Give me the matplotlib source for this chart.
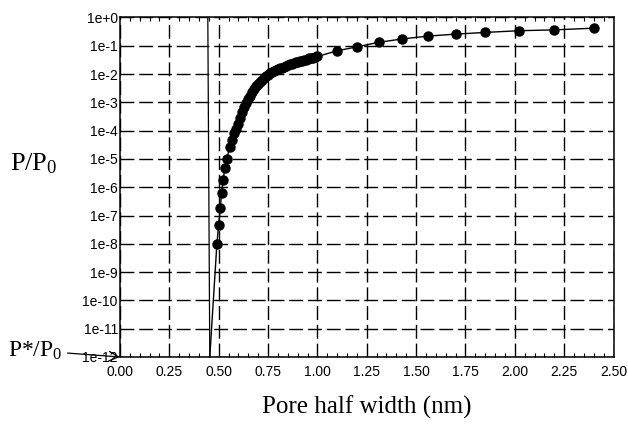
import numpy as np
import matplotlib
matplotlib.use("Agg")
from matplotlib import pyplot as plt
from matplotlib.ticker import FixedLocator, MultipleLocator

# pore half width (nm) and log10(P/P0)
width_nm = [0.491, 0.500, 0.508, 0.515, 0.523, 0.531, 0.542, 0.555, 0.567, 0.577,
            0.59, 0.60, 0.61, 0.62, 0.63, 0.64, 0.65, 0.66, 0.67, 0.68,
            0.69, 0.70, 0.71, 0.72, 0.73, 0.74, 0.75, 0.76, 0.77, 0.78,
            0.79, 0.80, 0.81, 0.82, 0.83, 0.84, 0.85, 0.86, 0.87, 0.88,
            0.89, 0.90, 0.91, 0.92, 0.93, 0.94, 0.95, 0.96, 0.97, 0.98,
            0.99, 1.00,
            1.10, 1.20, 1.31, 1.43, 1.56, 1.70, 1.85, 2.02, 2.20, 2.40]
log_p = [-8.00, -7.33, -6.74, -6.20, -5.73, -5.32, -4.99, -4.59, -4.32, -4.08,
         -3.95, -3.75, -3.55, -3.35, -3.18, -3.02, -2.88, -2.76, -2.64, -2.53,
         -2.44, -2.36, -2.28, -2.21, -2.14, -2.08, -2.03, -1.98, -1.94, -1.90,
         -1.86, -1.83, -1.80, -1.77, -1.74, -1.71, -1.68, -1.66, -1.63, -1.61,
         -1.59, -1.57, -1.55, -1.53, -1.51, -1.49, -1.47, -1.45, -1.43, -1.42,
         -1.40, -1.38,
         -1.18, -1.04, -0.88, -0.76, -0.66, -0.59, -0.53, -0.47, -0.44, -0.38]

# curve start on the axis floor (P*/P0) and the near-vertical line
start_x = 0.455
start_p = 1e-12
vline_x = [0.445, 0.455]
vline_p = [1e0, 1e-12]

ytick_vals = [10.0 ** -k for k in range(13)]
ytick_labels = ["1e+0"] + ["1e-%d" % k for k in range(1, 13)]
xtick_vals = [0.00, 0.25, 0.50, 0.75, 1.00, 1.25, 1.50, 1.75, 2.00, 2.25, 2.50]

p_vals = 10.0 ** np.array(log_p)

plt.rcParams["mathtext.default"] = "regular"
fig = plt.figure(figsize=(6.28, 4.25), dpi=100)
ax = fig.add_axes([0.191, 0.16, 0.786, 0.799])

ax.set_yscale("log")
ax.set_xlim(0, 2.5)
ax.set_ylim(1e-12, 1e0)

ax.plot([start_x] + width_nm, [start_p] + list(p_vals), color="k", lw=1.0)
ax.plot(width_nm, p_vals, "o", color="k", ms=6.5, mec="k")
ax.plot(vline_x, vline_p, color="k", lw=0.9)

ax.yaxis.set_major_locator(FixedLocator(ytick_vals))
ax.yaxis.set_minor_locator(FixedLocator([]))
ax.set_yticklabels(ytick_labels)
ax.xaxis.set_major_locator(FixedLocator(xtick_vals))
ax.xaxis.set_minor_locator(MultipleLocator(0.05))
ax.set_xticklabels(["%.2f" % v for v in xtick_vals])

ax.grid(True, which="major", color="k", linestyle=(0, (10, 3.5)), lw=1.0)
ax.tick_params(which="both", direction="in", top=True, right=False, color="k")
ax.tick_params(which="major", length=0, labelsize=10)
ax.tick_params(axis="y", pad=1.5)
ax.tick_params(axis="x", pad=5.5)
ax.tick_params(which="minor", length=3, width=0.8)
for lab in ax.get_xticklabels() + ax.get_yticklabels():
    lab.set_family("Liberation Sans")
for s in ax.spines.values():
    s.set_linewidth(1.1)

ax.set_xlabel("Pore half width (nm)", family="Liberation Serif", fontsize=18, labelpad=12)
fig.text(0.016, 0.615, "P/P$_0$", family="Liberation Serif", fontsize=19, va="center")

ax.annotate("P*/P$_0$", xy=(0, 1e-12), xytext=(0.012, 0.175), textcoords="figure fraction",
            family="Liberation Serif", fontsize=17, va="center", annotation_clip=False,
            arrowprops=dict(arrowstyle="->", color="k", lw=0.9, shrinkA=2, shrinkB=0))

fig.savefig("out.png", dpi=100)
